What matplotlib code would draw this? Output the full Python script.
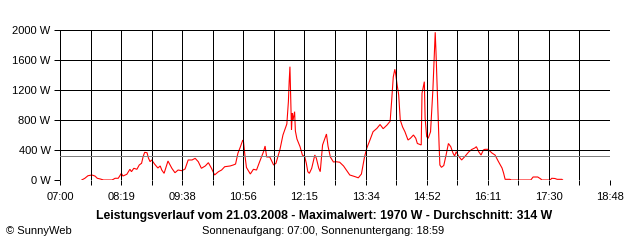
import matplotlib
matplotlib.use("Agg")
import matplotlib.pyplot as plt
import numpy as np

plt.rcParams['font.family'] = ['Liberation Sans', 'DejaVu Sans']

# minutes after 07:00
minutes = [28, 32, 36, 41, 45, 48, 52, 56, 67, 71, 75, 79, 81, 86, 90, 92, 95, 99, 102, 105,
           107, 109, 112, 114, 116, 118, 122, 126, 129, 131, 134, 136, 139, 144, 148, 152, 157, 161, 165, 170,
           174, 178, 182, 187, 191, 195, 199, 204, 208, 212, 219, 223, 226, 229, 232, 235, 236, 238, 240, 245,
           249, 253, 257, 262, 264, 266, 270, 275, 278, 283, 287, 292, 294, 295, 296, 297, 298, 299, 300, 302,
           303, 305, 309, 312, 315, 317, 319, 321, 324, 328, 330, 333, 335, 338, 341, 343, 345, 348, 352, 355,
           360, 365, 369, 373, 380, 384, 388, 392, 395, 399, 403, 408, 412, 416, 421, 425, 427, 429, 431, 432,
           434, 436, 438, 441, 444, 448, 451, 455, 458, 460, 465, 466, 469, 470, 472, 474, 477, 480, 481, 483,
           484, 486, 488, 489, 491, 494, 497, 500, 503, 506, 508, 510, 513, 517, 521, 526, 530, 534, 536, 539,
           542, 545, 547, 551, 556, 560, 564, 569, 571, 573, 579, 581, 606, 609, 615, 619, 620, 631, 633, 637,
           640, 646, 647]
watts = [0, 23, 57, 67, 53, 23, 13, 0, 0, 23, 23, 89, 53, 76, 143, 111, 156, 143, 200, 223,
         311, 369, 364, 289, 244, 267, 209, 160, 187, 133, 89, 156, 253, 156, 97, 133, 124, 147, 267, 267,
         289, 244, 156, 187, 231, 156, 67, 111, 133, 177, 187, 200, 213, 356, 436, 524, 533, 333, 167, 80,
         143, 133, 244, 378, 453, 307, 307, 200, 223, 400, 600, 747, 1044, 1311, 1511, 1067, 667, 893, 800, 911,
         653, 547, 444, 333, 311, 227, 111, 89, 156, 333, 289, 160, 111, 467, 556, 613, 453, 307, 240, 244,
         237, 187, 127, 67, 44, 29, 80, 307, 427, 533, 644, 689, 740, 684, 733, 784, 1067, 1373, 1476, 1422,
         1267, 1133, 800, 707, 644, 533, 556, 600, 556, 487, 467, 1156, 1311, 827, 578, 556, 644, 1200, 1467, 1970,
         1707, 1067, 467, 200, 169, 193, 333, 487, 444, 356, 320, 377, 320, 267, 311, 373, 407, 427, 444, 377,
         333, 400, 409, 409, 360, 333, 253, 160, 93, 9, 9, 0, 0, 40, 40, 13, 0, 0, 23, 20,
         9, 9, 0]

average = 314
y_ticks = [0, 400, 800, 1200, 1600, 2000]
y_labels = ["0 W", "400 W", "800 W", "1200 W", "1600 W", "2000 W"]
x_labels = ["07:00", "08:19", "09:38", "10:56", "12:15", "13:34", "14:52", "16:11", "17:30", "18:48"]
title = "Leistungsverlauf vom 21.03.2008 - Maximalwert: 1970 W - Durchschnitt: 314 W"
subtitle = "Sonnenaufgang: 07:00, Sonnenuntergang: 18:59"
credit = "\u00a9 SunnyWeb"

W, H = 640, 240
fig = plt.figure(figsize=(6.4, 2.4), dpi=100)
ax = fig.add_axes([60 / W, 60 / H, 550 / W, 150 / H])
total = 708
ax.set_xlim(0, total)
ax.set_ylim(0, 2000)

lw = 0.72
ax.plot(minutes, watts, color="#ff0000", lw=lw * 1.1, zorder=2, solid_joinstyle="miter")

n_int = 18
xgrid = np.linspace(0, total, n_int + 1)
for xv in xgrid:
    ax.axvline(xv, color="black", lw=lw, zorder=3)
for yv in y_ticks:
    ax.axhline(yv, color="black", lw=lw, zorder=3)
ax.axhline(average, color="#808080", lw=lw, zorder=4)

for s in ax.spines.values():
    s.set_visible(False)

ax.set_xticks(xgrid)
ax.set_xticklabels([x_labels[i // 2] if i % 2 == 0 else "" for i in range(len(xgrid))])
ax.set_yticks(y_ticks)
ax.set_yticklabels(y_labels)
ax.tick_params(axis="x", direction="out", length=3.6, width=lw, color="black", pad=5, labelsize=8)
ax.tick_params(axis="y", direction="out", length=4.3, width=lw, color="black", pad=2.5, labelsize=8)

fig.text(324 / W, 1 - 215.5 / H, title, ha="center", va="center", fontsize=8.8, fontweight="bold")
fig.text(323 / W, 1 - 231.5 / H, subtitle, ha="center", va="center", fontsize=8)
fig.text(6 / W, 1 - 231.5 / H, credit, ha="left", va="center", fontsize=8)

fig.savefig("out.png", dpi=100)
